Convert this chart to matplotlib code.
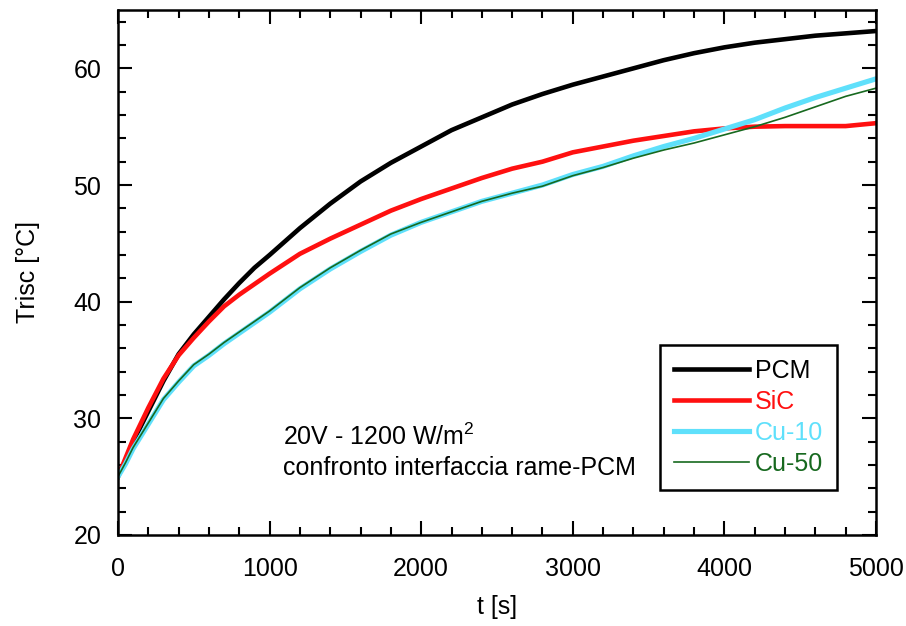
import matplotlib
matplotlib.use("Agg")
import matplotlib.pyplot as plt
from matplotlib.ticker import MultipleLocator

plt.rcParams["font.family"] = ["Liberation Sans", "DejaVu Sans"]
plt.rcParams["mathtext.fontset"] = "custom"
plt.rcParams["mathtext.rm"] = "Liberation Sans"

# time axis [s] and temperatures [°C]
t = [0, 50, 100, 200, 300, 400, 500, 600, 700, 800, 900, 1000, 1200, 1400,
     1600, 1800, 2000, 2200, 2400, 2600, 2800, 3000, 3200, 3400, 3600, 3800,
     4000, 4200, 4400, 4600, 4800, 5000]

pcm = [25.0, 26.4, 28.0, 30.6, 33.2, 35.5, 37.2, 38.7, 40.2, 41.6, 42.9, 44.0,
       46.3, 48.4, 50.3, 51.9, 53.3, 54.7, 55.8, 56.9, 57.8, 58.6, 59.3, 60.0,
       60.7, 61.3, 61.8, 62.2, 62.5, 62.8, 63.0, 63.2]

sic = [25.0, 26.6, 28.2, 30.9, 33.4, 35.4, 36.9, 38.3, 39.6, 40.6, 41.5, 42.4,
       44.1, 45.4, 46.6, 47.8, 48.8, 49.7, 50.6, 51.4, 52.0, 52.8, 53.3, 53.8,
       54.2, 54.6, 54.85, 55.0, 55.05, 55.05, 55.05, 55.3]

cu10 = [25.0, 26.1, 27.4, 29.5, 31.6, 33.1, 34.5, 35.4, 36.4, 37.3, 38.2, 39.1,
        41.1, 42.8, 44.3, 45.7, 46.8, 47.7, 48.6, 49.3, 50.0, 50.9, 51.6, 52.5,
        53.3, 54.0, 54.8, 55.6, 56.6, 57.5, 58.3, 59.1]

cu50 = [25.0, 26.2, 27.5, 29.6, 31.7, 33.2, 34.6, 35.5, 36.5, 37.4, 38.3, 39.2,
        41.2, 42.9, 44.4, 45.8, 46.8, 47.7, 48.6, 49.3, 49.9, 50.8, 51.5, 52.3,
        53.0, 53.6, 54.3, 55.0, 55.8, 56.7, 57.6, 58.3]

SERIES = [
    ("PCM", pcm, "#000000", 3.3),
    ("SiC", sic, "#ff1010", 3.3),
    ("Cu-10", cu10, "#5fe0fb", 3.7),
    ("Cu-50", cu50, "#17691f", 1.2),
]

FS = 18


def main():
    fig = plt.figure(figsize=(9.06, 6.26), dpi=100)
    ax = fig.add_axes([0.1302, 0.1454, 0.8367, 0.8386])

    for label, vals, color, lw in SERIES:
        ax.plot(t, vals, color=color, lw=lw, label=label)

    ax.set_xlim(0, 5000)
    ax.set_ylim(20, 65)
    ax.xaxis.set_major_locator(MultipleLocator(1000))
    ax.xaxis.set_minor_locator(MultipleLocator(200))
    ax.yaxis.set_major_locator(MultipleLocator(10))
    ax.yaxis.set_minor_locator(MultipleLocator(2))
    ax.set_yticks([20, 30, 40, 50, 60])

    ax.tick_params(which="both", direction="in", top=True, right=True,
                   width=1.5, labelsize=FS, colors="black")
    ax.tick_params(which="major", length=10)
    ax.tick_params(which="minor", length=5.5)
    ax.tick_params(axis="x", which="major", pad=16)
    ax.tick_params(axis="y", which="major", pad=12)
    for sp in ax.spines.values():
        sp.set_linewidth(1.8)

    ax.set_xlabel("t [s]", fontsize=FS, labelpad=10)
    ax.set_ylabel("Trisc [°C]", fontsize=FS, labelpad=24)

    ax.text(0.2177, 0.187, "20V - 1200 W/m$^2$", transform=ax.transAxes,
            fontsize=FS, va="center", ha="left")
    ax.text(0.2177, 0.128, "confronto interfaccia rame-PCM",
            transform=ax.transAxes, fontsize=FS, va="center", ha="left")

    leg = ax.legend(loc="lower right", bbox_to_anchor=(0.9486, 0.0857),
                    fontsize=FS, frameon=True, fancybox=False,
                    framealpha=1, edgecolor="black", handlelength=3.0,
                    handletextpad=0.25, borderpad=0.55, labelspacing=0.28,
                    borderaxespad=0)
    leg.get_frame().set_linewidth(1.8)
    for txt, (_, _, color, _) in zip(leg.get_texts(), SERIES):
        txt.set_color(color)

    fig.savefig("out.png", dpi=100)
    plt.close(fig)


if __name__ == "__main__":
    main()
